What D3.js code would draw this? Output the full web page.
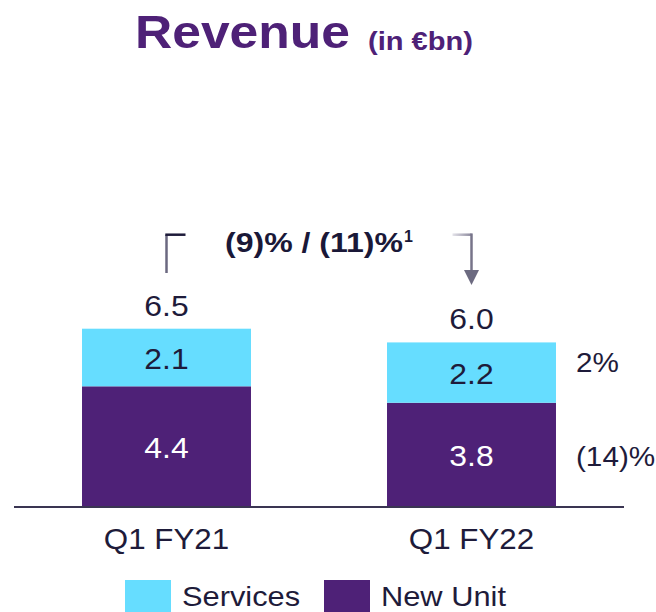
<!DOCTYPE html>
<html>
<head>
<meta charset="utf-8">
<script src="https://cdn.jsdelivr.net/npm/d3@7"></script>
<style>
  html, body { margin: 0; padding: 0; background: #ffffff; overflow: hidden; }
  svg { display: block; font-family: "Liberation Sans", Arial, sans-serif; }
</style>
</head>
<body>
<svg id="chart" width="656" height="612"></svg>
<script>
// ---- Data ----
const categories = ["Q1 FY21", "Q1 FY22"];
const seriesNames = ["New Unit", "Services"];
const newUnitValues = [4.4, 3.8];
const servicesValues = [2.1, 2.2];
const totalValues = [6.5, 6.0];
const segmentChangeLabels = ["(14)%", "2%"]; // New Unit, Services (FY22 vs FY21)
const growthLabel = "(9)% / (11)%";
const growthFootnote = "1";
const legendOrder = ["Services", "New Unit"];

// ---- Styles ----
const colors = { "New Unit": "#4E2177", "Services": "#66DDFF" };
const textDark = "#1E1B3A";
const titleColor = "#4E2177";
const STRETCH = 1.1;
const changeOffset = { "New Unit": 11, "Services": -1 };

const svg = d3.select("#chart");

function stretch(sel, factor) {
  sel.each(function () {
    const w = this.getComputedTextLength();
    d3.select(this).attr("textLength", w * factor).attr("lengthAdjust", "spacingAndGlyphs");
  });
}

// ---- Scales ----
const x = d3.scaleBand().domain(categories).range([14, 624]).paddingInner(0.446).paddingOuter(0.223);
const y = d3.scaleLinear().domain([0, d3.max(totalValues)]).range([507, 328.7]);

const table = categories.map((c, i) => ({ category: c, "New Unit": newUnitValues[i], "Services": servicesValues[i] }));
const stacked = d3.stack().keys(seriesNames)(table);

// ---- Title ----
svg.append("text").attr("x", 135).attr("y", 48)
  .attr("font-size", 46).attr("font-weight", "bold").attr("fill", titleColor)
  .attr("textLength", 215).attr("lengthAdjust", "spacingAndGlyphs")
  .text("Revenue");
svg.append("text").attr("x", 368).attr("y", 50)
  .attr("font-size", 26).attr("font-weight", "bold").attr("fill", titleColor)
  .attr("textLength", 105).attr("lengthAdjust", "spacingAndGlyphs")
  .text("(in €bn)");

// ---- Bars ----
const layers = svg.append("g").selectAll("g").data(stacked).join("g")
  .attr("fill", d => colors[d.key]);
layers.selectAll("rect").data(d => d.map(v => Object.assign(v, { key: d.key }))).join("rect")
  .attr("x", d => x(d.data.category))
  .attr("width", x.bandwidth())
  .attr("y", d => y(d[1]))
  .attr("height", d => y(d[0]) - y(d[1]));

// segment value labels
const segLabels = svg.append("g");
stacked.forEach(layer => {
  layer.forEach(d => {
    segLabels.append("text")
      .attr("x", x(d.data.category) + x.bandwidth() / 2)
      .attr("y", (y(d[0]) + y(d[1])) / 2 + 11)
      .attr("text-anchor", "middle")
      .attr("font-size", 29)
      .attr("fill", layer.key === "New Unit" ? "#ffffff" : textDark)
      .text(d3.format(".1f")(d[1] - d[0]));
  });
});
stretch(segLabels.selectAll("text"), STRETCH);

// totals
const totLabels = svg.append("g").selectAll("text").data(categories).join("text")
  .attr("x", d => x(d) + x.bandwidth() / 2)
  .attr("y", (d, i) => y(totalValues[i]) - 13)
  .attr("text-anchor", "middle")
  .attr("font-size", 29)
  .attr("fill", textDark)
  .text((d, i) => d3.format(".1f")(totalValues[i]));
stretch(totLabels, STRETCH);

// ---- Axis baseline ----
svg.append("line").attr("x1", 14).attr("x2", 624).attr("y1", y(0)).attr("y2", y(0))
  .attr("stroke", "#3A3552").attr("stroke-width", 2);

// category labels
const catLabels = svg.append("g").selectAll("text").data(categories).join("text")
  .attr("x", d => x(d) + x.bandwidth() / 2)
  .attr("y", 549)
  .attr("text-anchor", "middle")
  .attr("font-size", 29)
  .attr("fill", textDark)
  .text(d => d);
stretch(catLabels, 1.08);

// segment change labels (right of last bar)
const last = categories[categories.length - 1];
const chg = svg.append("g");
stacked.forEach((layer, li) => {
  const d = layer[layer.length - 1];
  chg.append("text")
    .attr("x", x(last) + x.bandwidth() + 20)
    .attr("y", (y(d[0]) + y(d[1])) / 2 + changeOffset[layer.key])
    .attr("font-size", 27)
    .attr("fill", textDark)
    .text(segmentChangeLabels[li]);
});
stretch(chg.selectAll("text"), STRETCH);

// ---- Growth bracket ----
const cx0 = x(categories[0]) + x.bandwidth() / 2;
const cx1 = x(last) + x.bandwidth() / 2;
const bracketY = 234.7;

const defs = svg.append("defs");
const grad = defs.append("linearGradient").attr("id", "fadeR").attr("x1", "0").attr("x2", "1").attr("y1", "0").attr("y2", "0");
grad.append("stop").attr("offset", "0").attr("stop-color", "#E4E3EA");
grad.append("stop").attr("offset", "1").attr("stop-color", "#8B889C");

svg.append("line").attr("x1", cx0).attr("x2", cx0).attr("y1", bracketY).attr("y2", 273)
  .attr("stroke", "#6B6880").attr("stroke-width", 2.5);
svg.append("line").attr("x1", cx0 - 1.2).attr("x2", cx0 + 19).attr("y1", bracketY).attr("y2", bracketY)
  .attr("stroke", "#1E1B3A").attr("stroke-width", 2.5);

svg.append("rect").attr("x", cx1 - 19).attr("y", bracketY - 1.25).attr("width", 19).attr("height", 2.5)
  .attr("fill", "url(#fadeR)");
svg.append("line").attr("x1", cx1).attr("x2", cx1).attr("y1", bracketY - 1.25).attr("y2", 271)
  .attr("stroke", "#77748A").attr("stroke-width", 2.5);
svg.append("path")
  .attr("d", `M${cx1 - 7.5},270 L${cx1 + 7.5},270 L${cx1},285 Z`)
  .attr("fill", "#6C6A80");

const growth = svg.append("text").attr("x", 225).attr("y", 252)
  .attr("font-size", 27).attr("font-weight", "bold").attr("fill", "#1A1838");
growth.append("tspan").text(growthLabel)
  .attr("textLength", 178).attr("lengthAdjust", "spacingAndGlyphs");
growth.append("tspan").attr("dy", -10).attr("dx", 1).attr("font-size", 16).text(growthFootnote);

// ---- Legend ----
const legendX = { "Services": 125, "New Unit": 324 };
const lg = svg.append("g").selectAll("g").data(legendOrder).join("g")
  .attr("transform", d => `translate(${legendX[d]},580)`);
lg.append("rect").attr("width", 46).attr("height", 46).attr("fill", d => colors[d]);
const lgText = lg.append("text").attr("x", 57).attr("y", 26)
  .attr("font-size", 28).attr("fill", textDark).text(d => d);
stretch(lgText, STRETCH);
</script>
</body>
</html>
